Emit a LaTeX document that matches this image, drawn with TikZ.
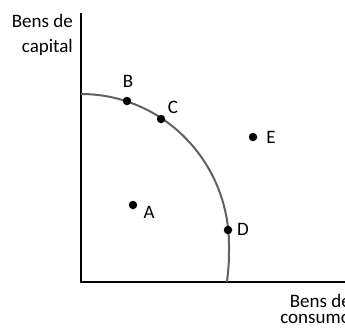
\documentclass[tikz,border=0pt]{standalone}
\usepackage{fontspec}
\setmainfont{Carlito}
\usetikzlibrary{positioning}

\begin{document}
\begin{tikzpicture}[
  x=1pt, y=1pt,
  every node/.style={font=\fontsize{19}{25}\selectfont},
  axis/.style={draw=black, line width=1.3pt},
  ppf/.style={draw=black!62, line width=2pt},
  dot/.style={circle, fill=black, inner sep=0pt, minimum size=8.5pt},
  lbl/.style={inner sep=0pt}
]
  \useasboundingbox (0,0) rectangle (345,333);
  \clip (0,0) rectangle (345,333);

  % axes
  \coordinate (ytop) at (81,320);
  \coordinate (orig) at (81,51);
  \coordinate (xend) at (346,51);
  \draw[axis] (ytop) -- (orig) -- (xend);
  \node[lbl, anchor=north east, align=right] (ylab) at (73,319) {Bens de\\capital};
  \node[lbl, anchor=north east, align=right, font=\fontsize{19}{16}\selectfont]
    (xlab) at (351,39) {Bens de\\consumo};

  % production possibilities frontier
  \coordinate (ptop) at (81,239);
  \coordinate (pmid) at (229,88);
  \coordinate (pend) at (227,51);
  \draw[ppf] (ptop) .. controls (162.7,239) and (229,171.4) .. (pmid)
    .. controls (229,70) .. (pend);

  % points
  \node[dot] (B) at (127,232) {};
  \node[dot] (C) at (161,214) {};
  \node[dot] (A) at (133,128) {};
  \node[dot] (D) at (228,103) {};
  \node[dot] (E) at (253,196) {};
  \node[lbl] (lB) at (128,251.5) {B};
  \node[lbl] (lC) at (173,226) {C};
  \node[lbl] (lA) at (149,121) {A};
  \node[lbl] (lD) at (243,104) {D};
  \node[lbl] (lE) at (271,196) {E};
\end{tikzpicture}
\end{document}
